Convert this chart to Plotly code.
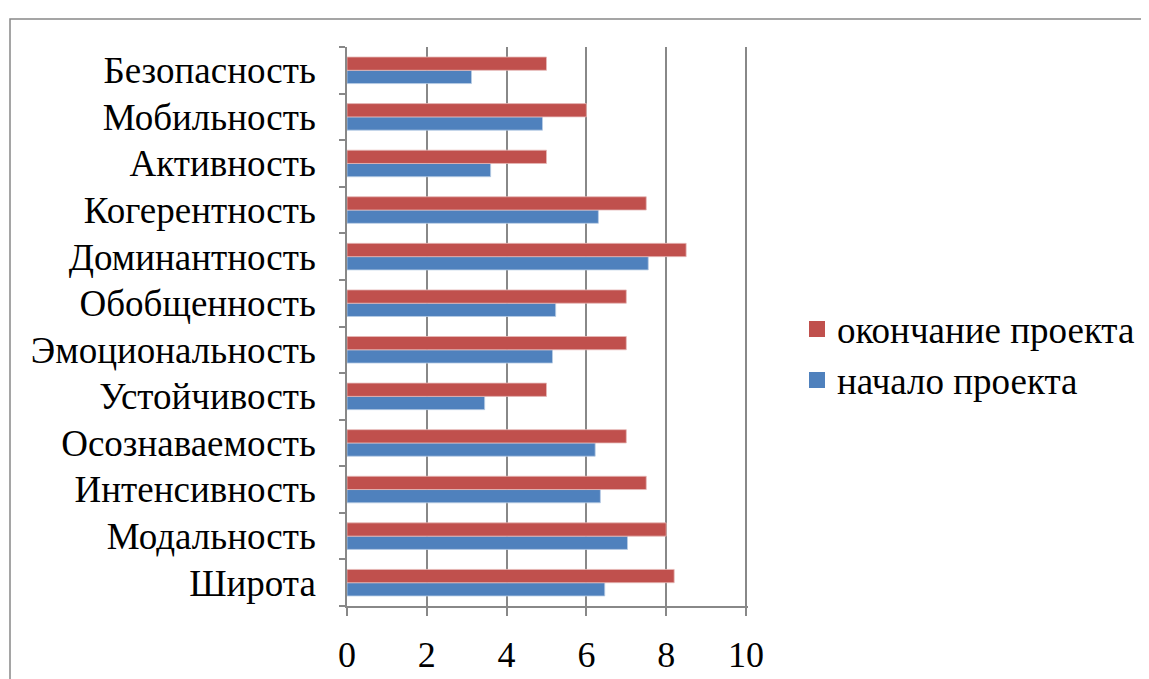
import plotly.graph_objects as go

categories = ["Широта", "Модальность", "Интенсивность", "Осознаваемость", "Устойчивость",
              "Эмоциональность", "Обобщенность", "Доминантность", "Когерентность",
              "Активность", "Мобильность", "Безопасность"]
start_values = [6.46, 7.03, 6.35, 6.22, 3.45, 5.15, 5.23, 7.55, 6.3, 3.6, 4.9, 3.12]
end_values = [8.2, 8.0, 7.5, 7.0, 5.0, 7.0, 7.0, 8.5, 7.5, 5.0, 6.0, 5.0]
series_names = ["начало проекта", "окончание проекта"]
x_ticks = [0, 2, 4, 6, 8, 10]

W, H = 1149, 679
OFF = 8  # page body margin
L, R, T, B = 347 - OFF, 748 - OFF, 47 - OFF, 608 - OFF
FONT = "Liberation Serif"
GRID = "#888888"
BLUE, RED = "#4F81BD", "#C0504D"

fig = go.Figure()
fig.add_trace(go.Bar(y=categories, x=start_values, name=series_names[0], orientation="h",
                     marker=dict(color=BLUE, line=dict(color="#B9CDE5", width=0.8)),
                     showlegend=False))
fig.add_trace(go.Bar(y=categories, x=end_values, name=series_names[1], orientation="h",
                     marker=dict(color=RED, line=dict(color="#E6B9B8", width=0.8)),
                     showlegend=False))
# legend entries (square swatches)
fig.add_trace(go.Scatter(x=[None], y=[None], mode="markers", name=series_names[1],
                         marker=dict(symbol="square", size=17, color=RED), legendrank=1))
fig.add_trace(go.Scatter(x=[None], y=[None], mode="markers", name=series_names[0],
                         marker=dict(symbol="square", size=17, color=BLUE), legendrank=2))

pw, ph = R - L, B - T
fig.add_shape(type="rect", xref="paper", yref="paper",
              x0=(10 - OFF - L) / pw, x1=(W + 20 - L) / pw,
              y0=(B - (H + 20)) / ph, y1=(B - (19 - OFF)) / ph,
              line=dict(color="#888888", width=1.5), fillcolor="rgba(0,0,0,0)", layer="below")

fig.update_layout(
    width=W, height=H,
    margin=dict(l=L, r=W - R, t=T, b=H - B, pad=0),
    paper_bgcolor="white", plot_bgcolor="white",
    barmode="group", bargap=0.43, bargroupgap=0,
    font=dict(family=FONT, size=37, color="black"),
    showlegend=True,
    legend=dict(x=(797 - OFF - L) / pw, y=(B - (356 - OFF)) / ph, xanchor="left", yanchor="middle",
                traceorder="normal", tracegroupgap=10,
                font=dict(family=FONT, size=37, color="black"),
                bgcolor="rgba(0,0,0,0)"),
    xaxis=dict(range=[0, 10.05], tickvals=x_ticks, ticktext=[str(v) for v in x_ticks],
               showgrid=True, gridcolor=GRID, gridwidth=1.5,
               showline=True, linecolor=GRID, linewidth=1.5,
               ticks="outside", ticklen=8, tickwidth=1.5, tickcolor=GRID,
               ticklabelstandoff=8, zeroline=False,
               tickfont=dict(family=FONT, size=36, color="black")),
    yaxis=dict(type="category", categoryorder="array", categoryarray=categories,
               showgrid=False, showline=True, linecolor=GRID, linewidth=1.5,
               ticks="outside", ticklen=6, tickwidth=1.5, tickcolor=GRID,
               tickson="boundaries", ticklabelstandoff=22,
               tickfont=dict(family=FONT, size=37, color="black")),
)

fig.write_html("out.html")
